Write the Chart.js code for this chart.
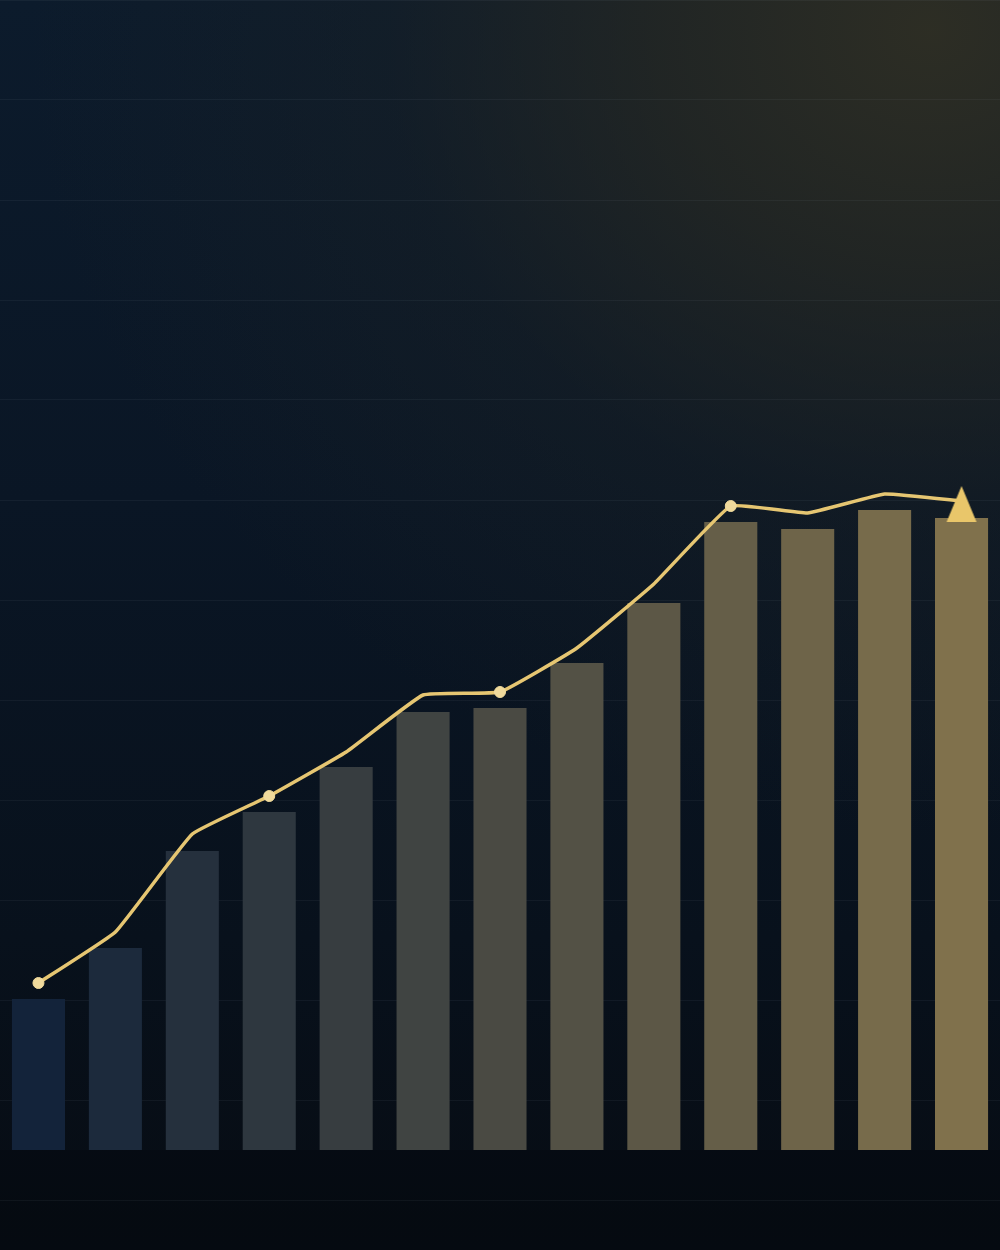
<!DOCTYPE html>
<html>
<head>
<meta charset="utf-8">
<script src="https://cdn.jsdelivr.net/npm/chart.js@4/dist/chart.umd.min.js"></script>
<style>
  html, body { margin: 0; padding: 0; }
  body {
    width: 1000px; height: 1250px; overflow: hidden;
    background:
      radial-gradient(ellipse 900px 800px at 930px 30px, rgba(46,46,36,0.97) 0%, rgba(40,41,34,0.75) 30%, rgba(30,35,35,0.35) 60%, rgba(20,28,34,0) 100%),
      linear-gradient(180deg, #0c1b2c 0%, #0a1625 40%, #08111c 75%, #070c13 100%);
    font-family: "DejaVu Sans", sans-serif;
  }
  #wrap { position: absolute; left: 0; top: 0; width: 1000px; height: 1250px; }
  #band { position: absolute; left: 0; top: 1150px; width: 1000px; height: 100px; background: rgba(4,8,12,0.3); }
</style>
</head>
<body>
<div id="band"></div>
<div id="wrap"><canvas id="c" width="1000" height="1250"></canvas></div>
<script>
// ---- data ----
const categories = ["1","2","3","4","5","6","7","8","9","10","11","12","13"];
const barValues  = [15.1, 20.2, 29.9, 33.8, 38.3, 43.8, 44.2, 48.7, 54.7, 62.8, 62.1, 64.0, 63.2];
const lineValues = [16.7, 21.8, 31.6, 35.4, 39.8, 45.5, 45.8, 50.2, 56.6, 64.4, 63.7, 65.6, 64.9];
const markerIndexes = [0, 3, 6, 9];
const gridTicks = [-5, 5, 15, 25, 35, 45, 55, 65, 75, 85, 95, 105, 115];

// ---- styles ----
function mix(a, b, t) {
  const pa = [parseInt(a.slice(1,3),16), parseInt(a.slice(3,5),16), parseInt(a.slice(5,7),16)];
  const pb = [parseInt(b.slice(1,3),16), parseInt(b.slice(3,5),16), parseInt(b.slice(5,7),16)];
  return 'rgb(' + pa.map((v,i)=>Math.round(v + (pb[i]-v)*t)).join(',') + ')';
}
const barColors = categories.map((_, i) => mix('#13233a', '#80714c', i / (categories.length - 1)));

// triangle marker image
const tri = document.createElement('canvas');
tri.width = 32; tri.height = 44;
(function(){
  const g = tri.getContext('2d');
  g.fillStyle = '#e9c66a';
  g.beginPath();
  g.moveTo(16, 7);
  g.lineTo(31, 43);
  g.lineTo(1, 43);
  g.closePath();
  g.fill();
})();

const pointStyles = lineValues.map((_, i) => i === lineValues.length - 1 ? tri : 'circle');
const pointRadii = lineValues.map((_, i) => (markerIndexes.includes(i) ? 5.5 : (i === lineValues.length - 1 ? 16 : 0)));

new Chart(document.getElementById('c'), {
  data: {
    labels: categories,
    datasets: [
      {
        type: 'line',
        data: lineValues,
        borderColor: '#e6c672',
        borderWidth: 3.5,
        tension: 0.1,
        pointStyle: pointStyles,
        pointRadius: pointRadii,
        pointBackgroundColor: '#f0da9c',
        pointBorderColor: '#f0da9c',
        pointBorderWidth: 1,
        clip: false,
        order: 0
      },
      {
        type: 'bar',
        data: barValues,
        backgroundColor: barColors,
        borderWidth: 0,
        categoryPercentage: 1.0,
        barPercentage: 0.69,
        order: 1
      }
    ]
  },
  options: {
    responsive: false,
    animation: false,
    layout: { padding: 0, autoPadding: false },
    plugins: { legend: { display: false }, tooltip: { enabled: false } },
    scales: {
      x: { display: false, offset: true },
      y: {
        min: -10, max: 115,
        border: { display: false },
        grid: { color: 'rgba(150,170,190,0.07)', lineWidth: 1, drawTicks: false },
        ticks: { display: false },
        afterBuildTicks: (s) => { s.ticks = gridTicks.map(v => ({ value: v })); },
        afterFit: (s) => { s.width = 0; }
      }
    }
  }
});
</script>
</body>
</html>
